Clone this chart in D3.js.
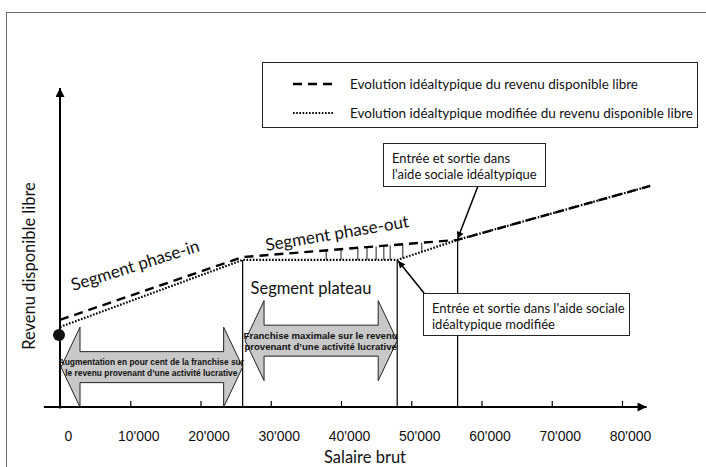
<!DOCTYPE html>
<html>
<head>
<meta charset="utf-8">
<script src="https://cdn.jsdelivr.net/npm/d3@7"></script>
<style>
  body { margin: 0; background: #fff; }
  svg { display: block; }
  .lbl { font-family: Lato, "Open Sans", sans-serif; fill: #111; }
  .arrow-txt { font-family: "Liberation Sans", Arial, sans-serif; font-weight: bold; fill: #111; }
</style>
</head>
<body>
<svg id="chart"></svg>
<script>
// salary axis
var xTickValues = [0, 10000, 20000, 30000, 40000, 50000, 60000, 70000, 80000];
var xTickLabels = ["0", "10'000", "20'000", "30'000", "40'000", "50'000", "60'000", "70'000", "80'000"];

// revenu disponible libre (arbitrary units, 0-100)
var dashedX = [0, 26000, 56600, 84000];
var dashedY = [27.3, 47.0, 52.4, 69.3];
var dottedX = [0, 26000, 48000, 56600, 84000];
var dottedY = [25.1, 46.1, 46.1, 52.4, 69.3];
var startValue = 22.6;

// small marks between the two curves
var hatchX = [37900, 40000, 42400, 43700, 45000, 46100, 47000, 48800, 51500];

// segment limits
var limitX = [26000, 48000, 56600];

// double arrows
var arrowFrom = [0, 26200];
var arrowTo = [26000, 48000];
var arrowLevel = [12.5, 20.8];
var arrowText = [
  ["Augmentation en pour cent de la franchise sur", "le revenu provenant d\u2019une activité lucrative"],
  ["Franchise maximale sur le revenu", "provenant d\u2019une activité lucrative"]
];

var legendLabels = [
  "Evolution idéaltypique du revenu disponible libre",
  "Evolution idéaltypique modifiée du revenu disponible libre"
];

var W = 706, H = 467;

var svg = d3.select("#chart")
  .attr("width", W)
  .attr("height", H);

var defs = svg.append("defs");
defs.append("marker")
  .attr("id", "axisHead")
  .attr("viewBox", "0 0 10 10")
  .attr("refX", 10).attr("refY", 5)
  .attr("markerWidth", 11).attr("markerHeight", 9)
  .attr("markerUnits", "userSpaceOnUse")
  .attr("orient", "auto")
  .append("path").attr("d", "M0,0 L10,5 L0,10 Z").attr("fill", "#000");
defs.append("marker")
  .attr("id", "pointHead")
  .attr("viewBox", "0 0 10 10")
  .attr("refX", 10).attr("refY", 5)
  .attr("markerWidth", 8).attr("markerHeight", 7)
  .attr("markerUnits", "userSpaceOnUse")
  .attr("orient", "auto")
  .append("path").attr("d", "M0,0 L10,5 L0,10 Z").attr("fill", "#000");

// outer frame
svg.append("rect")
  .attr("x", 6.5).attr("y", 12.5)
  .attr("width", 740).attr("height", 500)
  .attr("fill", "none")
  .attr("stroke", "#666")
  .attr("stroke-width", 1);

var x = d3.scaleLinear().domain([0, 80000]).range([60, 622]);
var y = d3.scaleLinear().domain([0, 100]).range([407, 88]);

var dashedAt = d3.scaleLinear().domain(dashedX).range(dashedY);
var dottedAt = d3.scaleLinear().domain(dottedX).range(dottedY);

// x axis
var xAxis = d3.axisBottom(x)
  .tickValues(xTickValues)
  .tickFormat(function(d, i) { return xTickLabels[i]; })
  .tickSizeInner(-6)
  .tickSizeOuter(0)
  .tickPadding(24);

var gx = svg.append("g")
  .attr("transform", "translate(0," + y(0) + ")")
  .call(xAxis);
gx.select(".domain").remove();
gx.selectAll(".tick line").attr("stroke", "#000").attr("stroke-width", 1.2);
gx.selectAll(".tick text")
  .attr("dx", 8)
  .style("font-family", "\"Liberation Sans\", Arial, sans-serif")
  .style("font-size", "14px")
  .attr("fill", "#111");

svg.append("line")
  .attr("x1", x(-2300)).attr("x2", x(83500))
  .attr("y1", y(0)).attr("y2", y(0))
  .attr("stroke", "#000").attr("stroke-width", 2)
  .attr("marker-end", "url(#axisHead)");

// y axis
svg.append("line")
  .attr("x1", x(0)).attr("x2", x(0))
  .attr("y1", y(-0.5)).attr("y2", y(100))
  .attr("stroke", "#000").attr("stroke-width", 2)
  .attr("marker-end", "url(#axisHead)");

// segment limits
svg.selectAll("line.limit")
  .data(limitX)
  .enter().append("line")
  .attr("class", "limit")
  .attr("x1", function(d) { return x(d); })
  .attr("x2", function(d) { return x(d); })
  .attr("y1", function(d) { return y(dottedAt(d)); })
  .attr("y2", y(0))
  .attr("stroke", "#000")
  .attr("stroke-width", 1.2);

// double arrows
function doubleArrow(x0, x1, cy) {
  var h = 40, s = 15.5, L = 19;
  return "M" + x0 + "," + cy +
    " L" + (x0 + L) + "," + (cy - h) +
    " L" + (x0 + L) + "," + (cy - s) +
    " L" + (x1 - L) + "," + (cy - s) +
    " L" + (x1 - L) + "," + (cy - h) +
    " L" + x1 + "," + cy +
    " L" + (x1 - L) + "," + (cy + h) +
    " L" + (x1 - L) + "," + (cy + s) +
    " L" + (x0 + L) + "," + (cy + s) +
    " L" + (x0 + L) + "," + (cy + h) + " Z";
}

var arrows = svg.selectAll("g.darrow")
  .data(arrowFrom)
  .enter().append("g")
  .attr("class", "darrow");

arrows.append("path")
  .attr("d", function(d, i) { return doubleArrow(x(arrowFrom[i]) + 1, x(arrowTo[i]), y(arrowLevel[i])); })
  .attr("fill", "#c8c8c8")
  .attr("stroke", "#222")
  .attr("stroke-width", 1);

arrows.each(function(d, i) {
  var g = d3.select(this);
  var cx = (x(arrowFrom[i]) + x(arrowTo[i])) / 2;
  var cy = y(arrowLevel[i]);
  var fs = i == 0 ? 8.4 : 9.6;
  arrowText[i].forEach(function(t, k) {
    g.append("text")
      .attr("class", "arrow-txt")
      .attr("x", cx)
      .attr("y", cy + (k == 0 ? -5.5 : 6))
      .attr("dy", "0.35em")
      .attr("text-anchor", "middle")
      .style("font-size", fs + "px")
      .text(t);
  });
});

// hatch marks between curves
svg.selectAll("line.hatch")
  .data(hatchX)
  .enter().append("line")
  .attr("class", "hatch")
  .attr("x1", function(d) { return x(d); })
  .attr("x2", function(d) { return x(d); })
  .attr("y1", function(d) { return y(dashedAt(d)); })
  .attr("y2", function(d) { return y(dottedAt(d)); })
  .attr("stroke", "#222")
  .attr("stroke-width", 1);

var line = d3.line()
  .x(function(d) { return x(d[0]); })
  .y(function(d) { return y(d[1]); });

svg.append("path")
  .attr("d", line(dottedX.map(function(v, i) { return [v, dottedY[i]]; })))
  .attr("fill", "none")
  .attr("stroke", "#000")
  .attr("stroke-width", 2.2)
  .attr("stroke-dasharray", "1.6,1.6");

svg.append("path")
  .attr("d", line(dashedX.map(function(v, i) { return [v, dashedY[i]]; })))
  .attr("fill", "none")
  .attr("stroke", "#000")
  .attr("stroke-width", 2.4)
  .attr("stroke-dasharray", "9,6");

// start point
svg.append("circle")
  .attr("cx", x(0) - 1)
  .attr("cy", y(startValue))
  .attr("r", 6)
  .attr("fill", "#111");

// segment labels
svg.append("text")
  .attr("class", "lbl")
  .attr("text-anchor", "middle")
  .attr("transform", "translate(137,271) rotate(-17.5)")
  .style("font-size", "17px")
  .text("Segment phase-in");

svg.append("text")
  .attr("class", "lbl")
  .attr("text-anchor", "middle")
  .attr("transform", "translate(338,239) rotate(-9.5)")
  .style("font-size", "17px")
  .text("Segment phase-out");

svg.append("text")
  .attr("class", "lbl")
  .attr("x", 311).attr("y", 294)
  .attr("text-anchor", "middle")
  .style("font-size", "16.5px")
  .text("Segment plateau");

// axis titles
svg.append("text")
  .attr("class", "lbl")
  .attr("text-anchor", "middle")
  .attr("transform", "translate(35,266) rotate(-90)")
  .style("font-size", "16.5px")
  .text("Revenu disponible libre");

svg.append("text")
  .attr("class", "lbl")
  .attr("x", 365).attr("y", 463)
  .attr("text-anchor", "middle")
  .style("font-size", "16.5px")
  .text("Salaire brut");

// legend
var legend = svg.append("g").attr("class", "legend");
legend.append("rect")
  .attr("x", 262.5).attr("y", 62.5)
  .attr("width", 435).attr("height", 65)
  .attr("fill", "#fff")
  .attr("stroke", "#222")
  .attr("stroke-width", 1);

legend.selectAll("line")
  .data(legendLabels)
  .enter().append("line")
  .attr("x1", 293).attr("x2", 334)
  .attr("y1", function(d, i) { return 84 + i * 29; })
  .attr("y2", function(d, i) { return 84 + i * 29; })
  .attr("stroke", "#000")
  .attr("stroke-width", function(d, i) { return i == 0 ? 2.4 : 2; })
  .attr("stroke-dasharray", function(d, i) { return i == 0 ? "9,6" : "1.6,1.6"; });

legend.selectAll("text")
  .data(legendLabels)
  .enter().append("text")
  .attr("class", "lbl")
  .attr("x", 350)
  .attr("y", function(d, i) { return 84 + i * 29; })
  .attr("dy", "0.35em")
  .style("font-size", "13.5px")
  .text(function(d) { return d; });

// callouts
function callout(bx, by, bw, bh, lines, tipX, tipY, fromX, fromY) {
  svg.append("line")
    .attr("x1", fromX).attr("y1", fromY)
    .attr("x2", tipX).attr("y2", tipY)
    .attr("stroke", "#000")
    .attr("stroke-width", 1.5)
    .attr("marker-end", "url(#pointHead)");
  svg.append("rect")
    .attr("x", bx + 0.5).attr("y", by + 0.5)
    .attr("width", bw).attr("height", bh)
    .attr("fill", "#fff")
    .attr("stroke", "#222")
    .attr("stroke-width", 1);
  lines.forEach(function(t, k) {
    svg.append("text")
      .attr("class", "lbl")
      .attr("x", bx + 9)
      .attr("y", by + 15 + k * 16)
      .attr("dy", "0.35em")
      .style("font-size", "13px")
      .text(t);
  });
}

callout(383, 143, 162, 43, ["Entrée et sortie dans", "l'aide sociale idéaltypique"],
  x(limitX[2]), y(dashedAt(limitX[2])) - 1, 478, 186);
callout(423, 293, 206, 42, ["Entrée et sortie dans l'aide sociale", "idéaltypique modifiée"],
  x(limitX[1]) + 1, y(dottedAt(limitX[1])) + 1, 424, 293);
</script>
</body>
</html>
